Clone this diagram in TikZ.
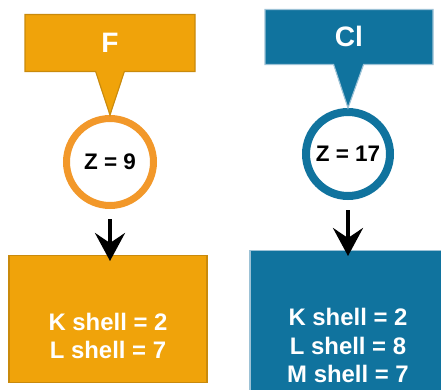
\documentclass[tikz,border=0pt]{standalone}
\usepackage{fontspec}
\setmainfont{Liberation Sans}
\usepackage{xcolor}
\usetikzlibrary{positioning, shapes.callouts, arrows.meta}
\definecolor{fOrange}{HTML}{F0A30A}
\definecolor{fOrangeLine}{HTML}{C98A0C}
\definecolor{fRing}{HTML}{F2982A}
\definecolor{clBlue}{HTML}{10739E}
\definecolor{clBlueLine}{HTML}{9CC2D6}

\begin{document}
\begin{tikzpicture}[
    title/.style={rectangle callout, draw, line width=0.8pt, minimum width=4.2cm,
      minimum height=1.4cm, callout pointer width=0.72cm, text=white,
      font=\bfseries\fontsize{20}{24}\selectfont},
    ring/.style={draw, circle, fill=white, inner sep=0pt,
      font=\bfseries\fontsize{16}{18}\selectfont},
    shellbox/.style={draw, rectangle, line width=0.8pt},
    shelltext/.style={align=center, text=white,
      font=\bfseries\fontsize{17}{20}\selectfont},
    down/.style={-{Stealth[length=7mm, width=7.5mm, inset=2.5mm]}, line width=2.8pt,
      shorten <=0.25cm, shorten >=-0.15cm}]
  \useasboundingbox (0,0) rectangle (11.025,-9.725);
  \clip (0,0) rectangle (11.025,-9.725);

  \node[ring, draw=fRing, line width=0.175cm, minimum size=2.175cm] (zf) at (2.75,-4.05) {Z = 9};
  \node[title, fill=fOrange, draw=fOrangeLine, minimum width=4.25cm, minimum height=1.425cm,
    callout absolute pointer=(zf.north), above = 1.075cm of zf] (f) {F};
  \node[shellbox, fill=fOrange, draw=fOrangeLine, minimum width=4.95cm, minimum height=3.175cm,
    below = 1.15cm of zf, xshift=-0.05cm] (fshell) {};
  \node[shelltext] (fshelltext) at ([yshift=-0.42cm]fshell.center) {K shell = 2\\L shell = 7};

  \node[ring, draw=clBlue, line width=0.2cm, minimum size=2.1cm] (zcl) at (8.7,-3.85) {Z = 17};
  \node[title, fill=clBlue, draw=clBlueLine, minimum width=4.2cm, minimum height=1.375cm,
    callout pointer width=0.75cm, callout absolute pointer=(zcl.north),
    above = 1.075cm of zcl, xshift=0.025cm] (cl) {Cl};
  \node[shellbox, fill=clBlue, draw=clBlueLine, minimum width=4.9cm, minimum height=3.95cm,
    below = 1.25cm of zcl] (clshell) {};
  \node[shelltext] (clshelltext) at ([yshift=-0.4cm]clshell.center) {K shell = 2\\L shell = 8\\M shell = 7};

  \draw[down] (zf.south) -- (zf.south |- fshell.north);
  \draw[down] (zcl.south) -- (clshell.north);
\end{tikzpicture}
\end{document}
